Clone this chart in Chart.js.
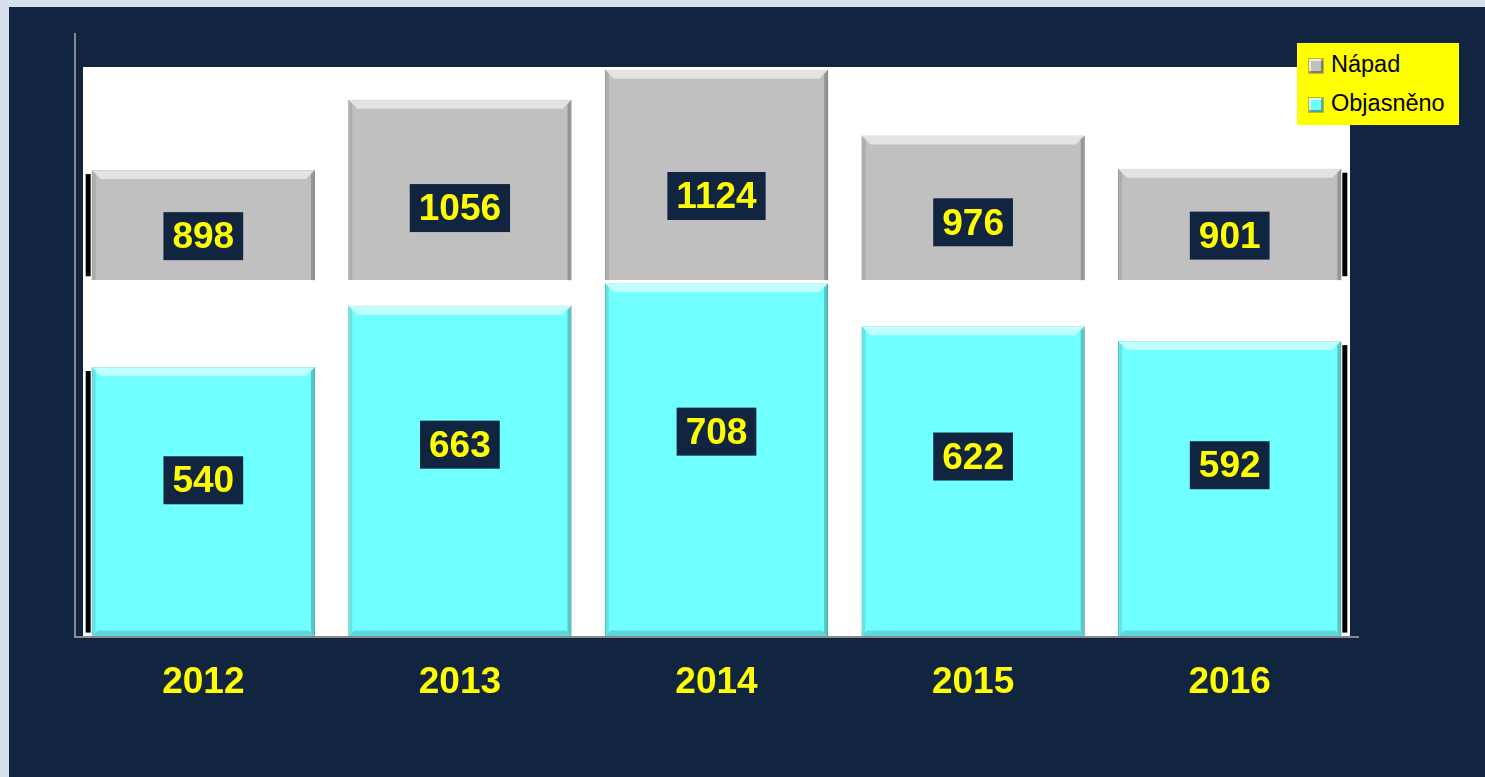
<!DOCTYPE html>
<html>
<head>
<meta charset="utf-8">
<script src="https://cdn.jsdelivr.net/npm/chart.js@4"></script>
<style>
html, body { margin: 0; padding: 0; }
body { width: 1485px; height: 777px; background: #d6e0ec; position: relative; overflow: hidden; }
#panel { position: absolute; left: 9px; top: 7px; right: 0; bottom: 0; background: #112540; }
#graf { position: absolute; left: 0; top: 0; }
#legenda { position: absolute; left: 1297px; top: 43px; width: 162px; height: 82px; background: #ffff00;
  font-family: "Liberation Sans", Arial, sans-serif; font-size: 23.5px; color: #000; }
#legenda div { position: absolute; left: 12px; height: 26px; line-height: 26px; white-space: nowrap; }
#legenda span { display: inline-block; width: 14px; height: 14px; margin-right: 8px; vertical-align: -1px;
  box-shadow: inset -2px -2px 0 rgba(0,0,0,0.35), inset 2px 2px 0 rgba(255,255,255,0.7), 0 0 0 1px rgba(0,0,0,0.25); }
</style>
</head>
<body>
<div id="panel"></div>
<canvas id="graf" width="1485" height="777"></canvas>
<div id="legenda"></div>
<script>
var roky = ['2012', '2013', '2014', '2015', '2016'];
var napad = [898, 1056, 1124, 976, 901];
var objasneno = [540, 663, 708, 622, 592];
var nazvyRad = ['Nápad', 'Objasněno'];
var barvyRad = ['#c0c0c0', '#6fffff'];
var rozsahNapad = [650, 1130];
var rozsahObjasneno = [0, 714];

var pismo = '"Liberation Sans", Arial, sans-serif';

// bile pozadi grafu a svisla osa
var pozadiPlugin = {
    id: 'pozadi',
    beforeDraw: function (chart) {
        var a = chart.chartArea;
        var ctx = chart.ctx;
        ctx.save();
        ctx.fillStyle = '#ffffff';
        ctx.fillRect(a.left + 8, a.top, a.right - a.left - 16, a.bottom - a.top);
        ctx.strokeStyle = '#8a8a8a';
        ctx.lineWidth = 2;
        ctx.beginPath();
        ctx.moveTo(a.left, a.top - 34);
        ctx.lineTo(a.left, a.bottom);
        ctx.stroke();
        ctx.restore();
    }
};

// 3D zkoseni sloupcu + popisky hodnot
var sloupcePlugin = {
    id: 'sloupce',
    afterDatasetsDraw: function (chart) {
        var ctx = chart.ctx;
        var b = 9;
        ctx.save();
        chart.data.datasets.forEach(function (ds, di) {
            var meta = chart.getDatasetMeta(di);
            meta.data.forEach(function (el, i) {
                var l = el.x - el.width / 2, r = el.x + el.width / 2;
                var t = el.y, bot = el.base;
                ctx.fillStyle = 'rgba(255,255,255,0.55)';
                ctx.beginPath();
                ctx.moveTo(l, t); ctx.lineTo(r, t); ctx.lineTo(r - b, t + b); ctx.lineTo(l + b, t + b);
                ctx.closePath(); ctx.fill();
                ctx.fillStyle = 'rgba(0,0,0,0.22)';
                ctx.beginPath();
                ctx.moveTo(r, t); ctx.lineTo(r, bot); ctx.lineTo(r - 4, bot - (di ? 4 : 0)); ctx.lineTo(r - 4, t + 4);
                ctx.closePath(); ctx.fill();
                ctx.fillStyle = 'rgba(0,0,0,0.1)';
                ctx.beginPath();
                ctx.moveTo(l, t); ctx.lineTo(l, bot); ctx.lineTo(l + 4, bot - (di ? 4 : 0)); ctx.lineTo(l + 4, t + 4);
                ctx.closePath(); ctx.fill();
                if (di) {
                    ctx.fillStyle = 'rgba(0,0,0,0.15)';
                    ctx.beginPath();
                    ctx.moveTo(l, bot); ctx.lineTo(r, bot); ctx.lineTo(r - 6, bot - 6); ctx.lineTo(l + 6, bot - 6);
                    ctx.closePath(); ctx.fill();
                }
                ctx.fillStyle = '#000000';
                if (i === 0) ctx.fillRect(l - 6, t + 4, 5, bot - t - 8);
                if (i === meta.data.length - 1) ctx.fillRect(r + 1, t + 4, 5, bot - t - 8);
            });
        });
        ctx.font = 'bold 37px ' + pismo;
        ctx.textAlign = 'center';
        ctx.textBaseline = 'middle';
        chart.data.datasets.forEach(function (ds, di) {
            var meta = chart.getDatasetMeta(di);
            var podil = di ? 0.42 : 0.6;
            meta.data.forEach(function (el, i) {
                var text = String(ds.data[i]);
                var w = ctx.measureText(text).width + 18;
                var h = 48;
                var cy = el.y + (el.base - el.y) * podil;
                ctx.fillStyle = '#112540';
                ctx.fillRect(el.x - w / 2, cy - h / 2, w, h);
                ctx.fillStyle = '#ffff00';
                ctx.fillText(text, el.x, cy + 2);
            });
        });
        ctx.restore();
    }
};

var skryta = {
    grid: { display: false, drawTicks: false },
    border: { display: false },
    ticks: { display: false }
};

var chart = new Chart(document.getElementById('graf'), {
    type: 'bar',
    data: {
        labels: roky,
        datasets: [{
            label: nazvyRad[0],
            data: napad,
            yAxisID: 'yNapad',
            base: rozsahNapad[0],
            backgroundColor: barvyRad[0],
            borderColor: '#9c9c9c',
            borderWidth: 1,
            grouped: false,
            categoryPercentage: 1,
            barPercentage: 0.87
        }, {
            label: nazvyRad[1],
            data: objasneno,
            yAxisID: 'yObj',
            backgroundColor: barvyRad[1],
            borderColor: '#4fcfcf',
            borderWidth: 1,
            grouped: false,
            categoryPercentage: 1,
            barPercentage: 0.87
        }]
    },
    options: {
        responsive: false,
        animation: false,
        layout: { padding: { left: 75, right: 127, top: 67, bottom: 48 } },
        plugins: {
            legend: { display: false },
            tooltip: { enabled: false }
        },
        scales: {
            x: {
                offset: true,
                grid: { display: false, drawTicks: false },
                border: { display: true, color: '#8a8a8a', width: 2 },
                ticks: {
                    color: '#ffff00',
                    padding: 24,
                    font: { family: pismo, size: 37, weight: 'bold' }
                }
            },
            yObj: Object.assign({
                position: 'left',
                stack: 'osa',
                stackWeight: 356,
                min: rozsahObjasneno[0],
                max: rozsahObjasneno[1]
            }, skryta),
            yNapad: Object.assign({
                position: 'left',
                stack: 'osa',
                stackWeight: 213,
                min: rozsahNapad[0],
                max: rozsahNapad[1]
            }, skryta)
        }
    },
    plugins: [pozadiPlugin, sloupcePlugin]
});

var legenda = document.getElementById('legenda');
chart.data.datasets.forEach(function (ds, i) {
    var radek = document.createElement('div');
    radek.style.top = (i === 0 ? 8 : 47) + 'px';
    var ctverec = document.createElement('span');
    ctverec.style.background = ds.backgroundColor;
    radek.appendChild(ctverec);
    radek.appendChild(document.createTextNode(ds.label));
    legenda.appendChild(radek);
});
</script>
</body>
</html>
